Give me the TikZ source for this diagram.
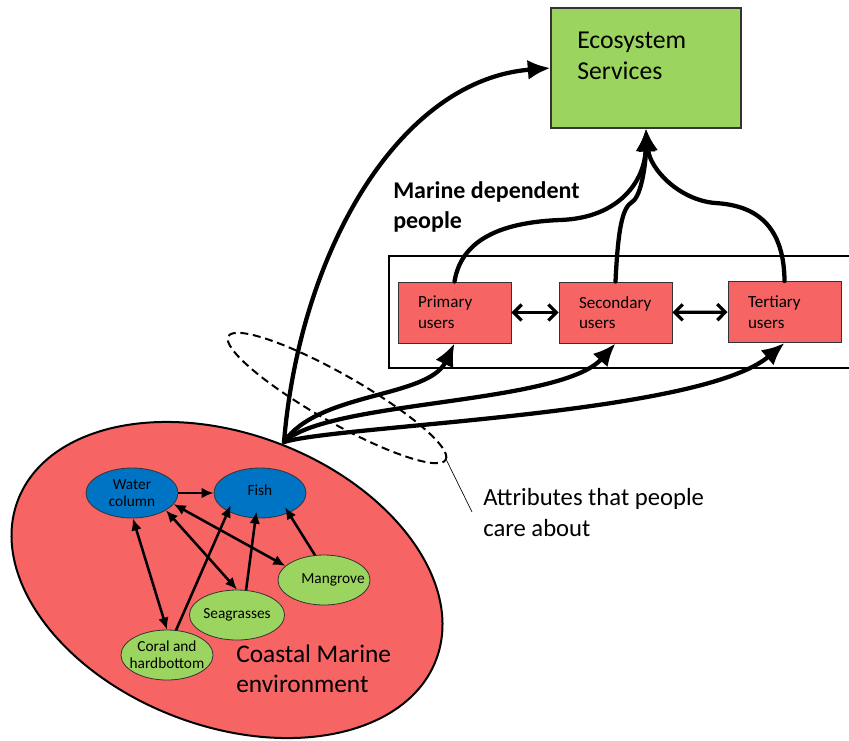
\documentclass[tikz,border=0pt]{standalone}
\usepackage{fontspec}
\setmainfont{Carlito}
\usetikzlibrary{arrows.meta,shapes.geometric}
\definecolor{envred}{HTML}{F66464}
\definecolor{esgreen}{HTML}{9BD55F}
\definecolor{nodeblue}{HTML}{0074C4}
\definecolor{nodegreen}{HTML}{9BD55F}
\begin{document}
\begin{tikzpicture}[x=0.75pt,y=-0.75pt,
  bigarrow/.style={line width=3.2pt,line cap=round,-{Latex[length=17pt,width=15pt]}},
  smallarrow/.style={line width=1.9pt,-{Latex[length=9pt,width=8pt]}},
  smalldouble/.style={line width=1.9pt,{Latex[length=9pt,width=8pt]}-{Latex[length=9pt,width=8pt]}},
  openarrow/.style={line width=2.4pt,{Straight Barb[length=6pt,width=12pt]}-{Straight Barb[length=6pt,width=12pt]}},
  userbox/.style={draw=black!80,line width=0.7pt,fill=envred,minimum width=84.75pt,minimum height=45.75pt,
    text width=54.75pt,inner xsep=15pt,align=left,font=\fontsize{12.8}{15.5}\selectfont},
  element/.style={ellipse,draw=black!80,line width=0.6pt,minimum width=69pt,minimum height=37.5pt,
    inner sep=0pt,align=center,font=\fontsize{11.5}{12.8}\selectfont},
  plaintext/.style={anchor=north west,align=left,inner sep=0pt}
]
\useasboundingbox (0,0) rectangle (849,740);

% environment
\node[ellipse,draw,line width=1.5pt,fill=envred,minimum width=335.7pt,minimum height=219pt,
  inner sep=0pt,rotate=-20.9] (env) at (227,580) {};
\node[plaintext,font=\fontsize{19}{22.5}\selectfont] (envtext) at (236,645) {Coastal Marine\\environment};

\node[element,fill=nodeblue] (wc) at (132,493) {Water\\column};
\node[element,fill=nodeblue] (fish) at (260,493) {\raisebox{4.5pt}{Fish}};
\node[element,fill=nodegreen] (mg) at (324,580) {\makebox[0pt]{\hspace{13.5pt}Mangrove}};
\node[element,fill=nodegreen] (sg) at (237,615) {Seagrasses};
\node[element,fill=nodegreen] (coral) at (167,655) {\makebox[40pt]{Coral and}\\\makebox[40pt]{hardbottom}};

\draw[smallarrow] (wc.east) -- (fish.west);
\draw[smalldouble] (wc.-88) -- (coral.north);
\draw[smalldouble] (wc.-27) -- (sg.north);
\draw[smalldouble] (wc.-15) -- (mg.160);
\draw[smallarrow,shorten >=-5pt] (coral.70) -- (fish.-150);
\draw[smallarrow,shorten >=-5pt] (sg.70) -- (fish.-100);
\draw[smallarrow,shorten >=-5pt] (mg.110) -- (fish.-35);

% ecosystem services
\node[draw=black!80,line width=0.8pt,fill=esgreen,minimum width=142.5pt,minimum height=90pt,inner sep=0pt] (es) at (646,68) {};
\node[plaintext,font=\fontsize{19.3}{23.3}\selectfont] (estext) at (577,32) {Ecosystem\\Services};

% people
\node[plaintext,font=\bfseries\fontsize{18}{22.5}\selectfont] (mdp) at (393,181) {Marine dependent\\people};
\node[draw,line width=2pt,minimum width=360.75pt,minimum height=84pt,inner sep=0pt] (users) at (629.5,312) {};
\node[userbox] (pri) at (454.5,312.5) {Primary\\users};
\node[userbox] (sec) at (615.5,312.5) {Secondary\\users};
\node[userbox] (ter) at (784.5,312) {Tertiary\\users};
\draw[openarrow] (pri) -- (sec);
\draw[openarrow] (sec) -- (ter);

% flows
\coordinate (src) at (284,442);
\draw[bigarrow] (src) .. controls (300,250) and (400,80) .. (es.west);
\draw[bigarrow] (src) .. controls (318,392) and (428,398) .. (pri.south);
\draw[bigarrow] (src) .. controls (328,400) and (560,405) .. (sec.south);
\draw[bigarrow] (src) .. controls (340,425) and (700,415) .. (ter.south);

\draw[bigarrow] (pri.north) .. controls (462,235) and (510,222) .. (560,220) .. controls (620,218) and (645,180) .. (es.south);
\draw[bigarrow] (sec.north) .. controls (618,230) and (622,208) .. (632,202) .. controls (642,196) and (646,160) .. (es.south);
\draw[bigarrow] (ter.north) .. controls (784,220) and (750,205) .. (715,203) .. controls (680,200) and (650,170) .. (es.south);

% attributes
\node[ellipse,draw,dash pattern=on 6pt off 3.5pt,line width=1.5pt,minimum width=187.5pt,minimum height=36pt,
  inner sep=0pt,rotate=-29.6] (attr) at (337,398) {};
\coordinate (lead) at (472,512);
\draw[line width=0.5pt] (attr.east) -- (lead);
\node[plaintext,font=\fontsize{18.5}{23}\selectfont] (attrtext) at (483,488) {Attributes that people\\care about};
\end{tikzpicture}
\end{document}
